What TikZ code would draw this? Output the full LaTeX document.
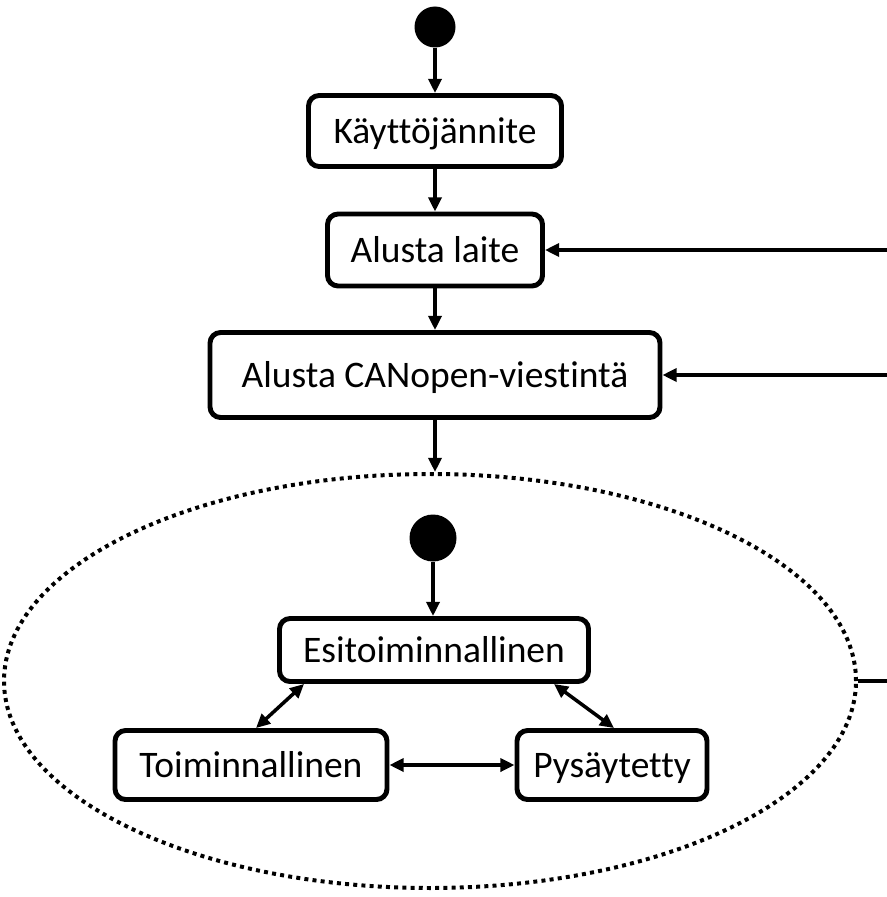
\documentclass[tikz,border=0pt]{standalone}
\usepackage{fontspec}
\setmainfont{Carlito}[Ligatures=NoCommon]
\usepackage{tikz}
\usetikzlibrary{arrows.meta}
\usetikzlibrary{shapes.geometric}
\tikzset{
	statebox/.style={draw, line width=4.2pt, rounded corners=9pt, align=center,
		font=\fontsize{32}{38}\selectfont, inner sep=0pt, text height=24pt, text depth=3.5pt},
	startdot/.style={circle, fill=black, inner sep=0pt},
	flow/.style={line width=3pt, -{Triangle[length=12pt,width=11pt]}},
	bothflow/.style={line width=3pt, {Triangle[length=12pt,width=11pt]}-{Triangle[length=12pt,width=11pt]}},
}
\newcommand{\statenode}[6]{   % name, x, y, width, height, text
	\node[statebox, minimum width=#4*0.03cm, minimum height=#5*0.03cm] (#1) at (#2, #3) {#6};
}
\begin{document}
\begin{tikzpicture}[x=0.03cm, y=-0.03cm]
\useasboundingbox (0, 0) rectangle (886, 897);

% outer states
\node[startdot, minimum size=41*0.03cm] (start) at (435, 27) {};
\statenode{power}{435}{131}{253}{71}{Käyttöjännite}
\statenode{laite}{435}{250}{215}{72}{Alusta laite}
\statenode{canopen}{435}{375}{450}{85}{Alusta CANopen-viestintä}

% composite state
\node[ellipse, draw, line width=3.4pt, dash pattern=on 3.4pt off 3.6pt,
	minimum width=852*0.03cm, minimum height=414*0.03cm] (region) at (430, 681) {};
\node[startdot, minimum size=47*0.03cm] (instart) at (433, 538) {};
\statenode{esitoim}{434}{650}{309}{63}{Esitoiminnallinen}
\statenode{toim}{251}{765}{272}{69}{Toiminnallinen}
\statenode{pys}{612}{765}{190}{69}{Pysäytetty}

\coordinate (ret) at (895, 681);

\draw[flow] (start) -- (power);
\draw[flow] (power) -- (laite);
\draw[flow] (laite) -- (canopen);
\draw[flow] (canopen.south) -- (canopen.south |- region.north);
\draw[flow] (instart) -- (instart |- esitoim.north);
\draw[bothflow] ([xshift=27*0.03cm]esitoim.south west) -- ([xshift=5*0.03cm]toim.north);
\draw[bothflow] ([xshift=-37*0.03cm]esitoim.south east) -- ([xshift=2*0.03cm]pys.north);
\draw[bothflow] (toim) -- (pys);

% back to the start
\draw[flow] (region.east) -- (ret) |- (laite.east);
\draw[flow] (ret |- canopen.east) -- (canopen.east);
\end{tikzpicture}
\end{document}
